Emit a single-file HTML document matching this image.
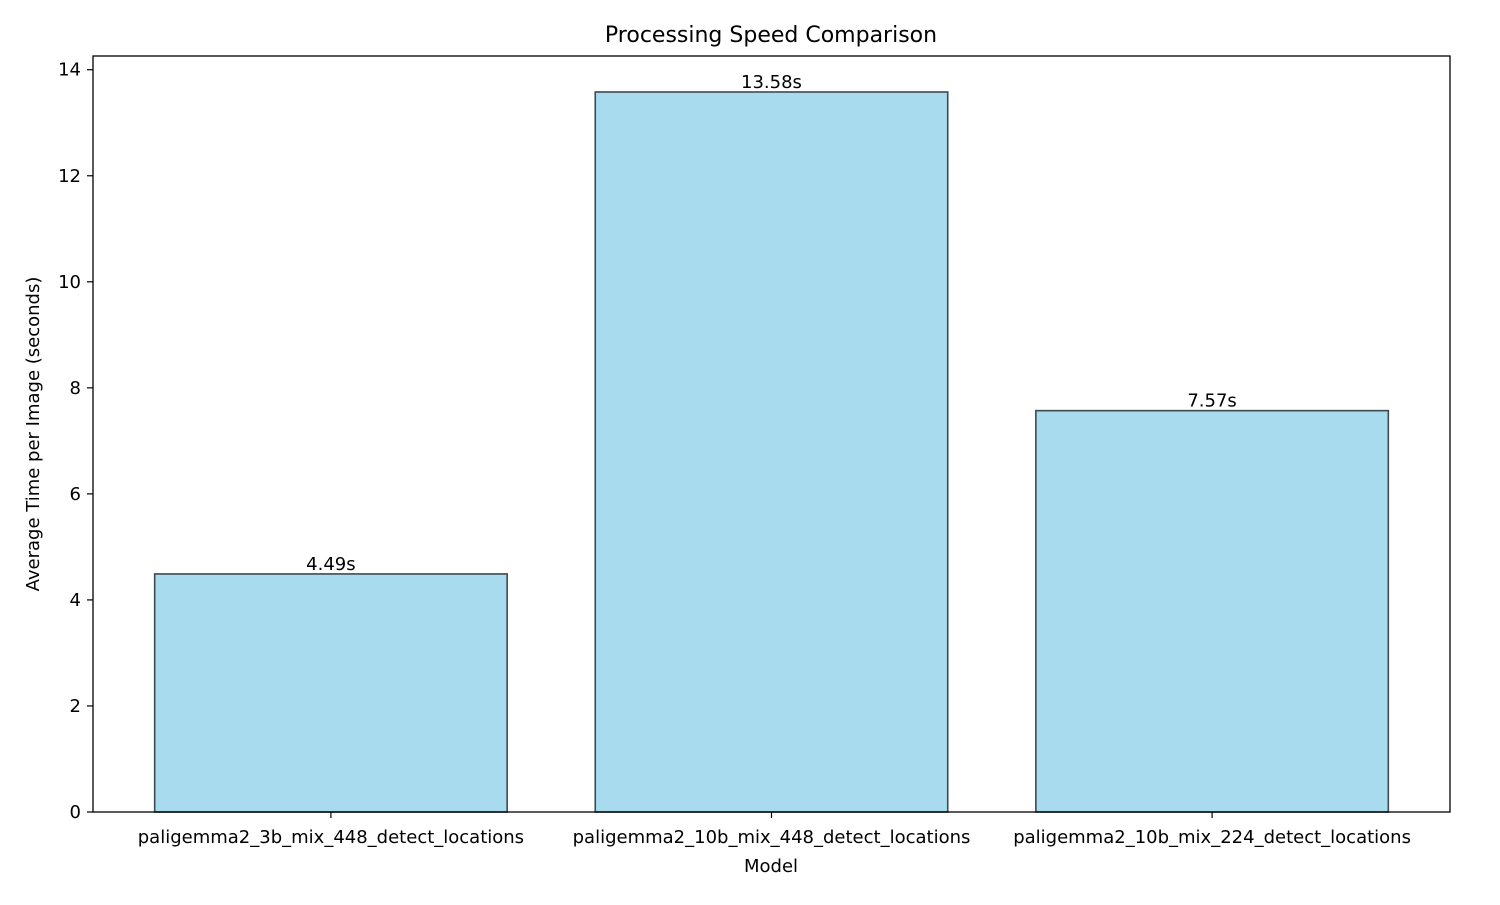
<!DOCTYPE html>
<html><head><meta charset="utf-8"><style>
body{margin:0;background:#fff;font-family:"Liberation Sans","DejaVu Sans",sans-serif;}
</style></head><body>
<svg width="1500" height="900" xmlns="http://www.w3.org/2000/svg" font-family="DejaVu Sans, Liberation Sans, sans-serif">
<rect width="1500" height="900" fill="#fff"/>
<g id="bars"></g>
<g id="yticks"></g>
<g id="xticks"></g>
<rect x="93" y="56" width="1357" height="756" fill="none" stroke="#000" stroke-width="1.3"/>
<text x="771" y="42" text-anchor="middle" font-size="22">Processing Speed Comparison</text>
<text x="771" y="872" text-anchor="middle" font-size="18">Model</text>
<text transform="translate(39,434) rotate(-90)" text-anchor="middle" font-size="18">Average Time per Image (seconds)</text>
</svg>
<script>
const categories=["paligemma2_3b_mix_448_detect_locations","paligemma2_10b_mix_448_detect_locations","paligemma2_10b_mix_224_detect_locations"];
const values=[4.49,13.58,7.57];
const yTicks=[0,2,4,6,8,10,12,14];
const NS="http://www.w3.org/2000/svg";
const L=93,R=1450,T=56,B=812;
const ymax=Math.max(...values)*1.05;
const n=categories.length;
const xmin=-0.4-0.05*(n-1+0.8),xmax=n-1+0.4+0.05*(n-1+0.8);
const xs=v=>L+(v-xmin)/(xmax-xmin)*(R-L);
const ys=v=>B-v/ymax*(B-T);
function mk(t,a,p){const e=document.createElementNS(NS,t);for(const k in a)e.setAttribute(k,a[k]);p.appendChild(e);return e;}
const bars=document.getElementById('bars'),yt=document.getElementById('yticks'),xt=document.getElementById('xticks');
values.forEach((v,i)=>{
 const x0=xs(i-0.4),x1=xs(i+0.4);
 const r=mk('rect',{x:x0,y:ys(v),width:x1-x0,height:ys(0)-ys(v),fill:'#a8dbee',stroke:'#3d4a50','stroke-width':1.6},bars);
 
 
 const t=mk('text',{x:xs(i),y:ys(v)-4,'text-anchor':'middle','font-size':18},bars);
 t.textContent=v.toFixed(2)+'s';
 
 
 mk('line',{x1:xs(i),x2:xs(i),y1:B,y2:B+6,stroke:'#000','stroke-width':1.2},xt);
 const l=mk('text',{x:xs(i),y:B+31,'text-anchor':'middle','font-size':18},xt);
 l.textContent=categories[i];
 
 
});
yTicks.forEach(v=>{
 mk('line',{x1:L-6,x2:L,y1:ys(v),y2:ys(v),stroke:'#000','stroke-width':1.2},yt);
 const t=mk('text',{x:L-12,y:ys(v)+6,'text-anchor':'end','font-size':18},yt);
 t.textContent=v;
 
 
});
</script>
</body></html>
